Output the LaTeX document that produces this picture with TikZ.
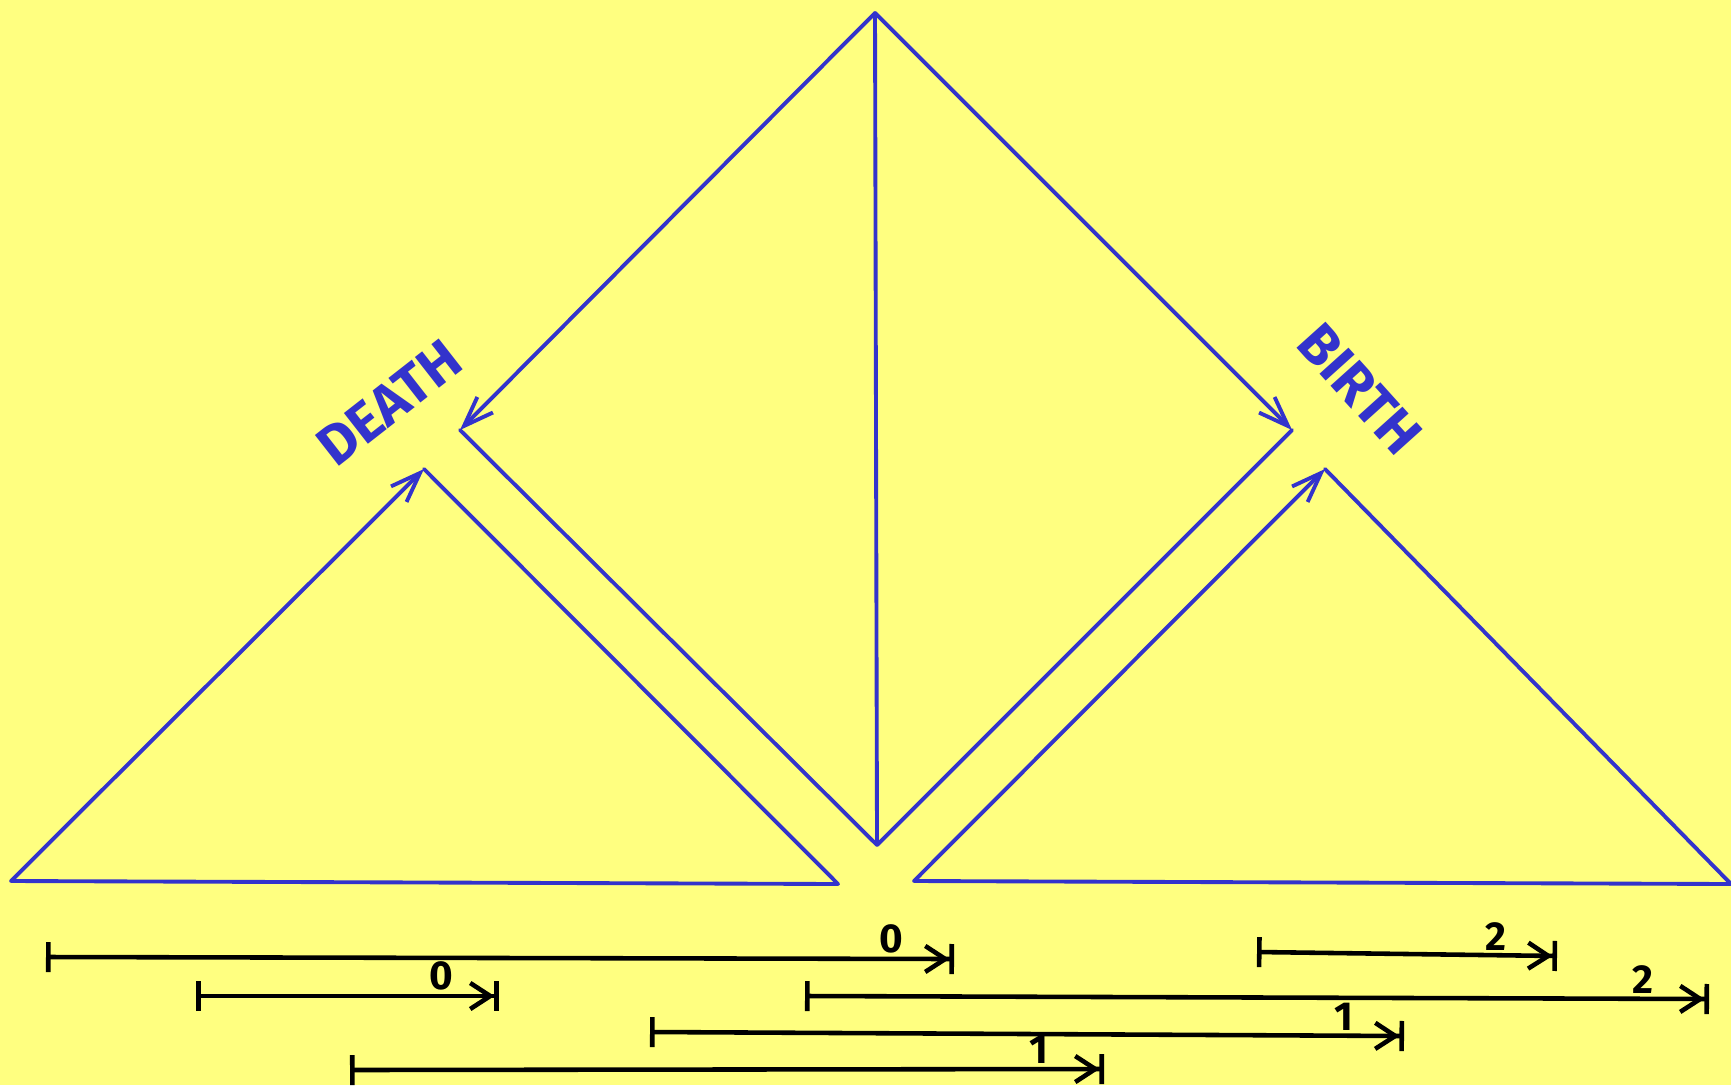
\documentclass[tikz,border=0pt]{standalone}
\usepackage{fontspec}
\setmainfont{Fira Sans}
\usepackage{xcolor}
\usetikzlibrary{arrows.meta,positioning}
\definecolor{padyellow}{HTML}{FFFF80}
\definecolor{penblue}{HTML}{3333CC}

\begin{document}
\begin{tikzpicture}[x=0.01cm, y=-0.01cm,
    blueline/.style={penblue, line width=1.1pt, line cap=round, line join=round},
    bluearrow/.style={blueline, -{Straight Barb[length=0.3cm, width=0.22cm]}},
    interval/.style={black, line width=1.3pt, {Bar[width=0.3cm]}-{Straight Barb[length=0.2cm, width=0.26cm]Bar[width=0.3cm]}},
    word/.style={penblue, font=\fontsize{16}{16}\selectfont\bfseries, inner sep=0pt},
    digit/.style={font=\fontsize{11.5}{11.5}\selectfont\bfseries, inner sep=0pt}
]

\fill[padyellow] (0,0) rectangle (1731,1085);
\useasboundingbox (0,0) rectangle (1731,1085);

% big kite
\coordinate (top) at (875,13);
\coordinate (kiteL) at (460,430);
\coordinate (kiteR) at (1292,430);
\coordinate (kiteB) at (877,845);

\draw[bluearrow] (top) -- (kiteL);
\draw[bluearrow] (top) -- (kiteR);
\draw[blueline] (top) -- (kiteB);
\draw[blueline] (kiteL) -- (kiteB) -- (kiteR);

% left triangle
\coordinate (deathL) at (11,881);
\coordinate (deathTop) at (424,469);
\coordinate (deathR) at (838,884);

\draw[bluearrow] (deathL) -- (deathTop);
\draw[blueline] (deathTop) -- (deathR) -- (deathL);

% right triangle
\coordinate (birthL) at (914,881);
\coordinate (birthTop) at (1325,469);
\coordinate (birthR) at (1731,884);

\draw[bluearrow] (birthL) -- (birthTop);
\draw[blueline] (birthTop) -- (birthR) -- (birthL);

\node[word, rotate=38] (death) at (389,403) {DEATH};
\node[word, rotate=-48] (birth) at (1360,389) {BIRTH};

% intervals
\coordinate (aStart) at (46,957);
\coordinate (aEnd) at (954,959);
\coordinate (bStart) at (196,996);
\coordinate (bEnd) at (499,996);
\coordinate (cStart) at (1257,952);
\coordinate (cEnd) at (1557,956);
\coordinate (dStart) at (805,996);
\coordinate (dEnd) at (1709,999);
\coordinate (eStart) at (650,1032);
\coordinate (eEnd) at (1404,1036);
\coordinate (fStart) at (350,1070);
\coordinate (fEnd) at (1104,1069);

\draw[interval] (aStart) -- (aEnd);
\draw[interval] (bStart) -- (bEnd);
\draw[interval] (cStart) -- (cEnd);
\draw[interval] (dStart) -- (dEnd);
\draw[interval] (eStart) -- (eEnd);
\draw[interval] (fStart) -- (fEnd);

\node[digit, above left=0.05cm and 0.5cm of aEnd] (aLbl) {0};
\node[digit, above left=0.05cm and 0.45cm of bEnd] (bLbl) {0};
\node[digit, above left=0.05cm and 0.5cm of cEnd] (cLbl) {2};
\node[digit, above left=0.05cm and 0.55cm of dEnd] (dLbl) {2};
\node[digit, above left=0.05cm and 0.5cm of eEnd] (eLbl) {1};
\node[digit, above left=0.05cm and 0.55cm of fEnd] (fLbl) {1};

\end{tikzpicture}
\end{document}
